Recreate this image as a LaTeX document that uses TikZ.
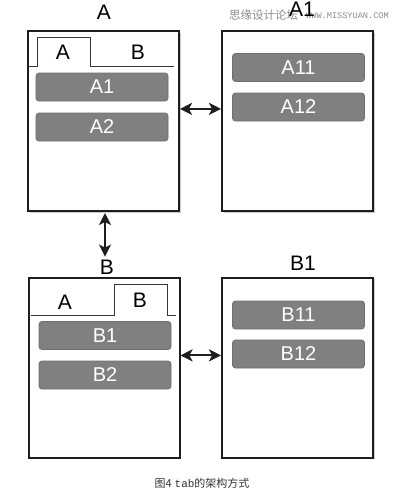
\documentclass[tikz,border=0pt]{standalone}
\usepackage{fontspec}
\setmainfont{Liberation Sans}
\newfontfamily\cjk{Noto Sans CJK SC}
\newfontfamily\monofont{Liberation Mono}
\usetikzlibrary{arrows.meta,shadows}
\definecolor{btn}{HTML}{808080}
\definecolor{btnborder}{HTML}{6E6E6E}
\definecolor{frame}{HTML}{1E1E1E}
\tikzset{
  screen/.style={draw=frame, line width=2pt, fill=white, minimum width=151pt, minimum height=180pt, inner sep=0pt,
    drop shadow={shadow xshift=1.5pt, shadow yshift=-1.5pt, fill=black!35, opacity=0.6}},
  btnbox/.style={draw=btnborder, line width=0.8pt, fill=btn, rounded corners=3pt, minimum width=132pt, minimum height=28pt,
    inner sep=0pt, text=white, font=\fontsize{20}{24}\selectfont},
  lbl/.style={font=\fontsize{21}{24}\selectfont, inner sep=0pt, text=black},
  tabline/.style={draw=frame!90, line width=1pt},
  arr/.style={{Stealth[length=12pt,width=12pt,inset=3pt]}-{Stealth[length=12pt,width=12pt,inset=3pt]}, line width=2pt, draw=frame},
}
\begin{document}
\begin{tikzpicture}[x=1pt,y=-1pt]
\useasboundingbox (0,0) rectangle (403,490);
% watermark
\node[inner sep=0pt, anchor=west, text=black!45, font=\cjk\fontsize{11.5}{12}\selectfont] (wm1) at (229,15) {思缘设计论坛};
\node[inner sep=0pt, anchor=west, text=black!45, font=\monofont\fontsize{8.6}{9}\selectfont] (wm2) at (306,16) {WWW.MISSYUAN.COM};
% titles
\node[lbl] (tA) at (104,12) {A};
\node[lbl] (tA1) at (302,9) {A1};
\node[lbl] (tB) at (107,267) {B};
\node[lbl] (tB1) at (303,263) {B1};
% screens
\node[screen] (A) at (103.5,121) {};
\node[screen] (A1) at (297.5,121) {};
\node[screen] (B) at (104,367.5) {};
\node[screen] (B1) at (297.5,367.5) {};
% tabs A screen
\draw[tabline] (29,66) -- (37,66) -- (37,37) -- (90,37) -- (90,66) -- (174,66);
\node[lbl] (tabAA) at (63,52) {A};
\node[lbl] (tabAB) at (138,52) {B};
% tabs B screen
\draw[tabline] (31,315) -- (114,315) -- (114,284) -- (167,284) -- (167,315) -- (176,315);
\node[lbl] (tabBA) at (65,302) {A};
\node[lbl] (tabBB) at (140,300) {B};
% buttons
\node[btnbox] (bA1) at (102,87) {A1};
\node[btnbox] (bA2) at (102,127) {A2};
\node[btnbox] (bA11) at (298.5,67.5) {A11};
\node[btnbox] (bA12) at (298.5,107) {A12};
\node[btnbox] (bB1) at (105,335.5) {B1};
\node[btnbox] (bB2) at (105,375) {B2};
\node[btnbox] (bB11) at (298.5,315) {B11};
\node[btnbox] (bB12) at (298.5,354) {B12};
% connectors
\draw[arr] (A.9) -- (A1.171);
\draw[arr] (B.9) -- (B1.171);
\coordinate (As) at ([xshift=1.5pt]A.south);
\draw[arr, shorten <=1pt, shorten >=3pt] (As) -- (As |- tB.north);
% caption
\node[inner sep=0pt, text=black!80, font=\fontsize{11}{12}\selectfont] (cap) at (202,483) {{\cjk 图4} {\monofont tab}{\cjk 的架构方式}};
\end{tikzpicture}
\end{document}
